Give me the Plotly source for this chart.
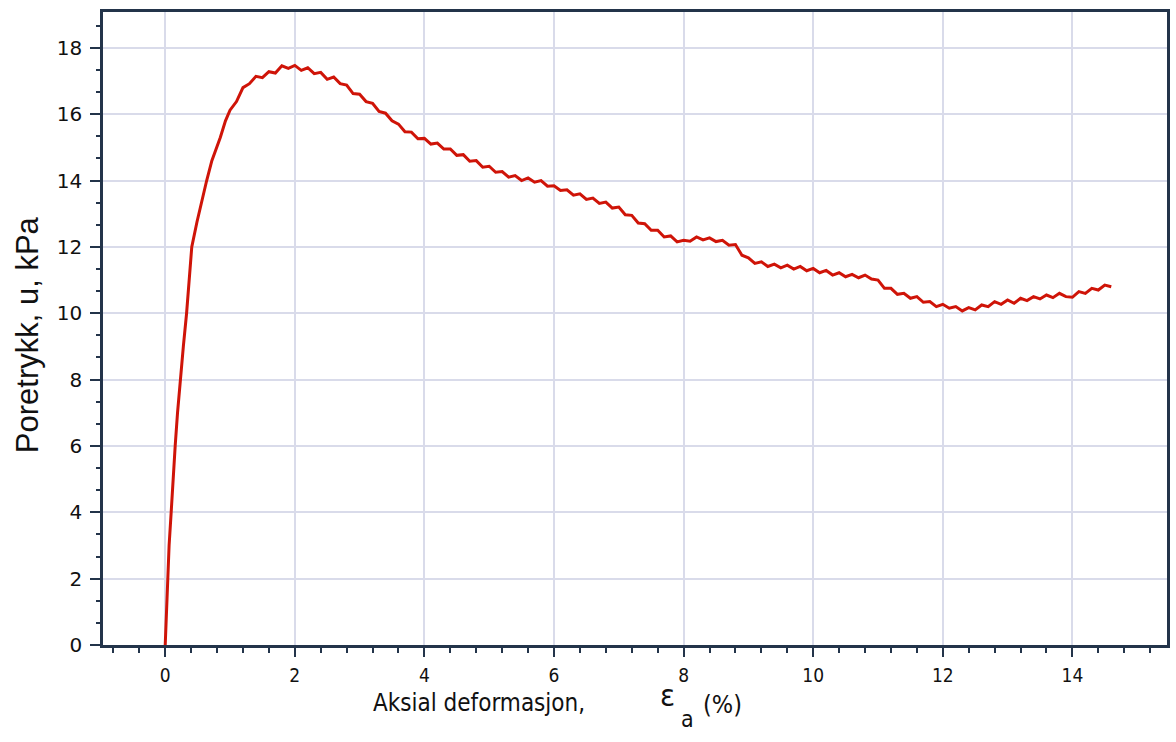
import plotly.graph_objects as go

# Rising branch (axial strain %, pore pressure kPa)
rise_x = [0.0, 0.02, 0.036, 0.06, 0.092, 0.12, 0.154, 0.19, 0.23, 0.28, 0.33, 0.37, 0.41,
          0.49, 0.56, 0.64, 0.72, 0.85, 0.93]
rise_y = [0.0, 1.0, 2.0, 3.0, 4.0, 5.0, 6.0, 7.0, 8.0, 9.0, 10.0, 11.0, 12.0,
          12.75, 13.35, 14.0, 14.6, 15.3, 15.8]

# Main branch every 0.1 % strain from 1.0 to 14.6
main_x = [round(1.0 + 0.1 * i, 1) for i in range(137)]
main_y = [16.12, 16.38, 16.80, 16.92, 17.14, 17.10, 17.28, 17.24, 17.46, 17.38,
          17.47, 17.32, 17.40, 17.22, 17.26, 17.05, 17.12, 16.92, 16.88, 16.62,
          16.60, 16.38, 16.33, 16.08, 16.03, 15.80, 15.70, 15.47, 15.46, 15.26,
          15.27, 15.10, 15.13, 14.95, 14.95, 14.76, 14.78, 14.58, 14.60, 14.40,
          14.43, 14.25, 14.27, 14.10, 14.15, 14.00, 14.08, 13.95, 14.00, 13.83,
          13.84, 13.70, 13.72, 13.56, 13.60, 13.43, 13.47, 13.31, 13.35, 13.17,
          13.20, 12.97, 12.95, 12.72, 12.70, 12.50, 12.50, 12.30, 12.33, 12.15,
          12.20, 12.17, 12.30, 12.21, 12.27, 12.16, 12.20, 12.05, 12.07, 11.75,
          11.67, 11.50, 11.55, 11.41, 11.48, 11.37, 11.45, 11.33, 11.41, 11.28,
          11.35, 11.22, 11.29, 11.15, 11.22, 11.10, 11.17, 11.07, 11.15, 11.03,
          11.00, 10.75, 10.75, 10.57, 10.60, 10.45, 10.50, 10.33, 10.35, 10.20,
          10.27, 10.15, 10.20, 10.07, 10.17, 10.10, 10.25, 10.20, 10.35, 10.27,
          10.40, 10.30, 10.45, 10.38, 10.50, 10.43, 10.55, 10.47, 10.60, 10.50,
          10.48, 10.65, 10.60, 10.75, 10.70, 10.85, 10.80]

x_ticks = [0, 2, 4, 6, 8, 10, 12, 14]
y_ticks = [0, 2, 4, 6, 8, 10, 12, 14, 16, 18]

strain = rise_x + main_x
pressure = rise_y + main_y

axis_col = "#23344a"
grid_col = "#d9dbea"
W, H = 1176, 742
ML, MR, MT, MB = 103, 6, 12, 97

fig = go.Figure()
fig.add_trace(go.Scatter(x=strain, y=pressure, mode="lines",
                         line=dict(color="#cf1408", width=3), showlegend=False))

fig.update_layout(
    width=W, height=H,
    margin=dict(l=ML, r=MR, t=MT, b=MB),
    paper_bgcolor="white", plot_bgcolor="white",
)

fig.update_xaxes(
    range=[-0.96, 15.46], tickvals=x_ticks, ticktext=[str(v) for v in x_ticks],
    showgrid=True, gridcolor=grid_col, gridwidth=1.5, zeroline=False,
    showline=True, linecolor=axis_col, linewidth=2.5, mirror=True,
    ticks="outside", ticklen=9, tickwidth=2, tickcolor=axis_col,
    tickfont=dict(family="DejaVu Sans Condensed, DejaVu Sans, sans-serif", size=19, color="#111111"),
    ticklabelstandoff=2,
    minor=dict(dtick=0.4, tick0=0, ticks="outside", ticklen=5, tickwidth=2,
               tickcolor=axis_col, showgrid=False),
)
fig.update_yaxes(
    range=[0, 19.08], tickvals=y_ticks, ticktext=[str(v) for v in y_ticks],
    showgrid=True, gridcolor=grid_col, gridwidth=1.5, zeroline=False,
    showline=True, linecolor=axis_col, linewidth=2.5, mirror=True,
    ticks="outside", ticklen=10, tickwidth=2, tickcolor=axis_col,
    tickfont=dict(family="DejaVu Sans, Verdana, sans-serif", size=20, color="#111111"),
    ticklabelstandoff=4,
    minor=dict(dtick=2/3, tick0=0, ticks="outside", ticklen=4, tickwidth=2,
               tickcolor=axis_col, showgrid=False),
)

cond = "DejaVu Sans Condensed, DejaVu Sans, sans-serif"
annots = [
    dict(text="Aksial deformasjon,", x=372, y=703, anchor="left", size=24),
    dict(text="ε", x=669, y=695, anchor="center", size=31),
    dict(text="a", x=689, y=719, anchor="center", size=23),
    dict(text="(%)", x=703, y=704, anchor="left", size=25),
]
pw, ph = W - ML - MR, H - MT - MB
for a in annots:
    fig.add_annotation(
        text=a["text"], showarrow=False,
        x=(a["x"] - ML) / pw, y=(H - MB - a["y"]) / ph,
        xref="paper", yref="paper", xanchor=a["anchor"], yanchor="middle",
        font=dict(family=cond, size=a["size"], color="#111111"),
    )

fig.add_annotation(
    text="Poretrykk, u, kPa", showarrow=False, textangle=-90,
    x=(27 - ML) / pw, y=(H - MB - 335) / ph,
    xref="paper", yref="paper", xanchor="center", yanchor="middle",
    font=dict(family="Liberation Sans, Arial, sans-serif", size=31, color="#111111"),
)

fig.write_html("out.html")
